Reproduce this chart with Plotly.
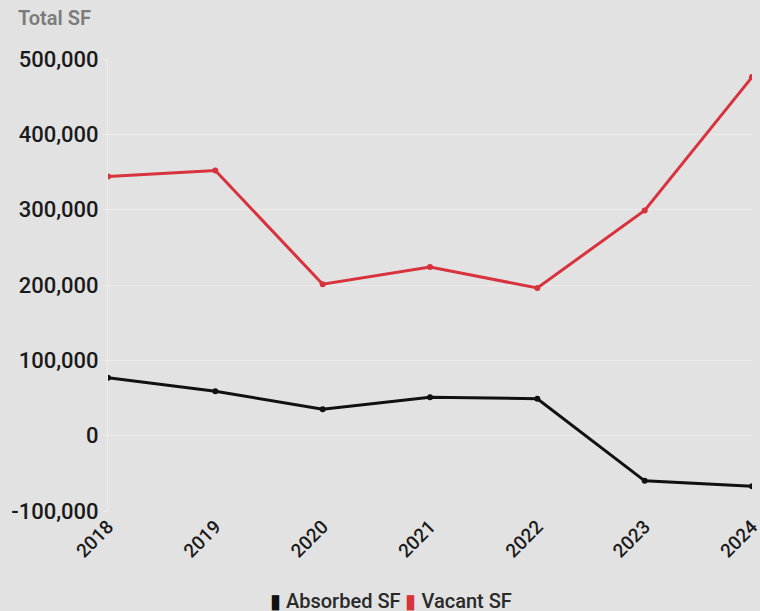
import plotly.graph_objects as go

years = ["2018", "2019", "2020", "2021", "2022", "2023", "2024"]
absorbed_sf = [77000, 59000, 35000, 51000, 49000, -60000, -67000]
vacant_sf = [344000, 352000, 201000, 224000, 196000, 299000, 476000]
y_ticks = [-100000, 0, 100000, 200000, 300000, 400000, 500000]
y_tick_labels = ["-100,000", "0", "100,000", "200,000", "300,000", "400,000", "500,000"]
series_names = ["Absorbed SF", "Vacant SF"]

BLACK = "#111111"
RED = "#d8323d"
BG = "#e2e2e2"
GRID = "#ececec"

fig = go.Figure()
fig.add_trace(go.Scatter(x=years, y=absorbed_sf, mode="lines+markers", name=series_names[0],
                         line=dict(color=BLACK, width=3), marker=dict(color=BLACK, size=6)))
fig.add_trace(go.Scatter(x=years, y=vacant_sf, mode="lines+markers", name=series_names[1],
                         line=dict(color=RED, width=3), marker=dict(color=RED, size=6)))

legend_text = (f"<span style='color:{BLACK}'>▮</span> {series_names[0]} "
               f"<span style='color:{RED}'>▮</span> {series_names[1]}")

fig.update_layout(
    width=760, height=611,
    margin=dict(l=108, r=8, t=59, b=100),
    paper_bgcolor=BG, plot_bgcolor=BG,
    font=dict(family="Roboto", color="#1a1a1a", size=20),
    showlegend=False,
    xaxis=dict(type="category", range=[0, 6], showgrid=False, zeroline=False,
               tickangle=-45, tickfont=dict(size=19, weight=500), ticks="",
               showline=False, automargin=False),
    yaxis=dict(range=[-100000, 500000], tickvals=y_ticks, ticktext=y_tick_labels,
               showgrid=True, gridcolor=GRID, gridwidth=1, zeroline=False,
               showline=True, linecolor=GRID, linewidth=1,
               ticks="outside", tickcolor=GRID, ticklen=4,
               tickfont=dict(size=22, weight=500), automargin=False),
    annotations=[
        dict(text="Total SF", xref="paper", yref="paper", x=-0.143, y=1.06,
             xanchor="left", yanchor="bottom", showarrow=False,
             font=dict(size=20, color="#7b7b7b", weight=600)),
        dict(text=legend_text, xref="paper", yref="paper", x=0.44, y=-0.2,
             xanchor="center", yanchor="middle", showarrow=False,
             font=dict(size=20, color="#2a2a2a", weight=500)),
    ],
)

fig.write_html("out.html")
